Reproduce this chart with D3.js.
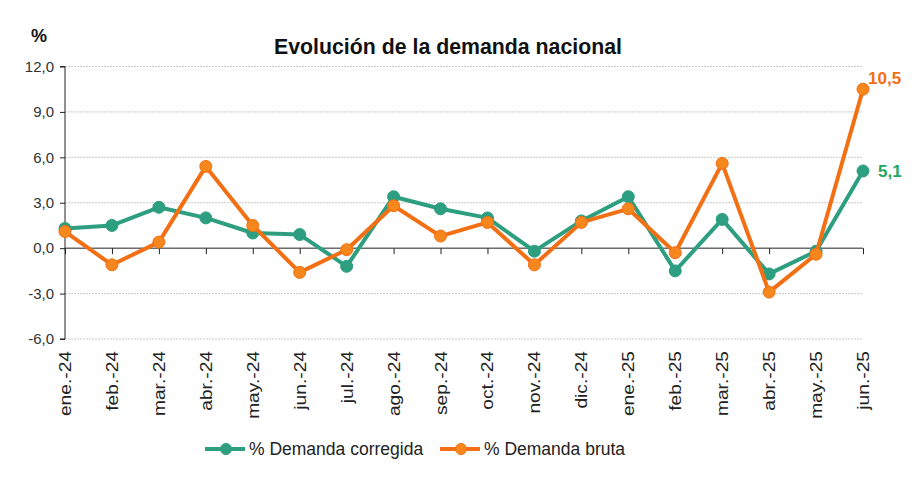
<!DOCTYPE html>
<html>
<head>
<meta charset="utf-8">
<script src="https://cdn.jsdelivr.net/npm/d3@7"></script>
<style>
  html, body { margin: 0; padding: 0; background: #fff; }
  svg { display: block; font-family: "Liberation Sans", Arial, sans-serif; }
</style>
</head>
<body>
<svg id="chart" width="914" height="500"></svg>
<script>
const categories = ["ene.-24","feb.-24","mar.-24","abr.-24","may.-24","jun.-24","jul.-24","ago.-24","sep.-24","oct.-24","nov.-24","dic.-24","ene.-25","feb.-25","mar.-25","abr.-25","may.-25","jun.-25"];
const corregida = [1.3, 1.5, 2.7, 2.0, 1.0, 0.9, -1.2, 3.4, 2.6, 2.0, -0.2, 1.8, 3.4, -1.5, 1.9, -1.7, -0.2, 5.1];
const bruta     = [1.1, -1.1, 0.4, 5.4, 1.5, -1.6, -0.1, 2.8, 0.8, 1.7, -1.1, 1.7, 2.6, -0.3, 5.6, -2.9, -0.4, 10.5];
const yTicks = [-6, -3, 0, 3, 6, 9, 12];
const seriesNames = ["% Demanda corregida", "% Demanda bruta"];
const title = "Evolución de la demanda nacional";
const unitLabel = "%";

const GREEN = "#2e9e80", GREEN_LABEL = "#22a664";
const ORANGE = "#f36f14", ORANGE_MARK = "#f5871c";

const svg = d3.select("#chart");
const pLeft = 65, pRight = 863, pTop = 66.5, pBottom = 339;

const x = d3.scalePoint().domain(categories).range([pLeft, pRight]);
const y = d3.scaleLinear().domain([-6, 12]).range([pBottom, pTop]);
const fmt = v => d3.format(".1f")(v).replace("\u2212", "-").replace(".", ",");

// gridlines
svg.append("g").selectAll("line").data(yTicks.filter(v => v !== 0)).join("line")
  .attr("x1", pLeft).attr("x2", pRight)
  .attr("y1", d => y(d)).attr("y2", d => y(d))
  .attr("stroke", "#c9c9c9").attr("stroke-width", 1).attr("stroke-dasharray", "2,1");

// y axis
const yAxis = svg.append("g").attr("transform", `translate(${pLeft},0)`)
  .call(d3.axisLeft(y).tickValues(yTicks).tickSize(5).tickPadding(6).tickFormat(fmt));
yAxis.select(".domain").attr("stroke", "#222").attr("d", `M-5,${y(12)}H0V${y(-6)}H-5`);
yAxis.selectAll(".tick line").attr("stroke", "#222");
yAxis.selectAll("text").attr("font-size", 15).attr("fill", "#333")
  .attr("font-family", "'Liberation Sans', Arial, sans-serif");

// zero axis with ticks down
const xAxis = svg.append("g").attr("transform", `translate(0,${y(0)})`)
  .call(d3.axisBottom(x).tickSize(6).tickFormat(""));
xAxis.select(".domain").attr("stroke", "#222").attr("d", `M${pLeft},0H${pRight}`);
xAxis.selectAll(".tick line").attr("stroke", "#222");

// x labels at bottom, rotated
svg.append("g").selectAll("text").data(categories).join("text")
  .attr("transform", d => `translate(${x(d) + 6},${pBottom + 12}) rotate(-90) scale(1.2,1)`)
  .attr("text-anchor", "end")
  .attr("font-size", 16).attr("fill", "#222")
  .text(d => d);

// lines
const series = [
  { name: seriesNames[0], values: corregida, color: GREEN, mark: GREEN },
  { name: seriesNames[1], values: bruta, color: ORANGE, mark: ORANGE_MARK }
];
const line = d3.line().x((d, i) => x(categories[i])).y(d => y(d));
series.forEach(s => {
  const g = svg.append("g");
  g.append("path").datum(s.values).attr("d", line)
    .attr("fill", "none").attr("stroke", s.color).attr("stroke-width", 4)
    .attr("stroke-linejoin", "round");
  g.selectAll("circle").data(s.values).join("circle")
    .attr("cx", (d, i) => x(categories[i])).attr("cy", d => y(d))
    .attr("r", 6).attr("fill", s.mark).attr("stroke", s.color).attr("stroke-width", 1);
});

// end value labels
const last = categories.length - 1;
svg.append("text").attr("x", x(categories[last]) + 5).attr("y", y(bruta[last]) - 5)
  .attr("font-size", 17).attr("font-weight", "bold").attr("fill", ORANGE)
  .text(fmt(bruta[last]));
svg.append("text").attr("x", x(categories[last]) + 15).attr("y", y(corregida[last]) + 6)
  .attr("font-size", 17).attr("font-weight", "bold").attr("fill", GREEN_LABEL)
  .text(fmt(corregida[last]));

// title & unit
svg.append("text").attr("x", 448).attr("y", 54).attr("text-anchor", "middle")
  .attr("font-size", 21.3).attr("font-weight", "bold").attr("fill", "#111").text(title);
svg.append("text").attr("x", 31).attr("y", 42)
  .attr("font-size", 18).attr("font-weight", "bold").attr("fill", "#111").text(unitLabel);

// legend
const legendPos = [205, 440];
series.forEach((s, i) => {
  const lg = svg.append("g");
  const lx = legendPos[i];
  lg.append("line").attr("x1", lx).attr("x2", lx + 40).attr("y1", 449).attr("y2", 449)
    .attr("stroke", s.color).attr("stroke-width", 4);
  lg.append("circle").attr("cx", lx + 21).attr("cy", 449).attr("r", 5.5)
    .attr("fill", s.mark).attr("stroke", s.color);
  lg.append("text").attr("x", lx + 44).attr("y", 455)
    .attr("font-size", 17.5).attr("fill", "#222").text(s.name);
});
</script>
</body>
</html>
